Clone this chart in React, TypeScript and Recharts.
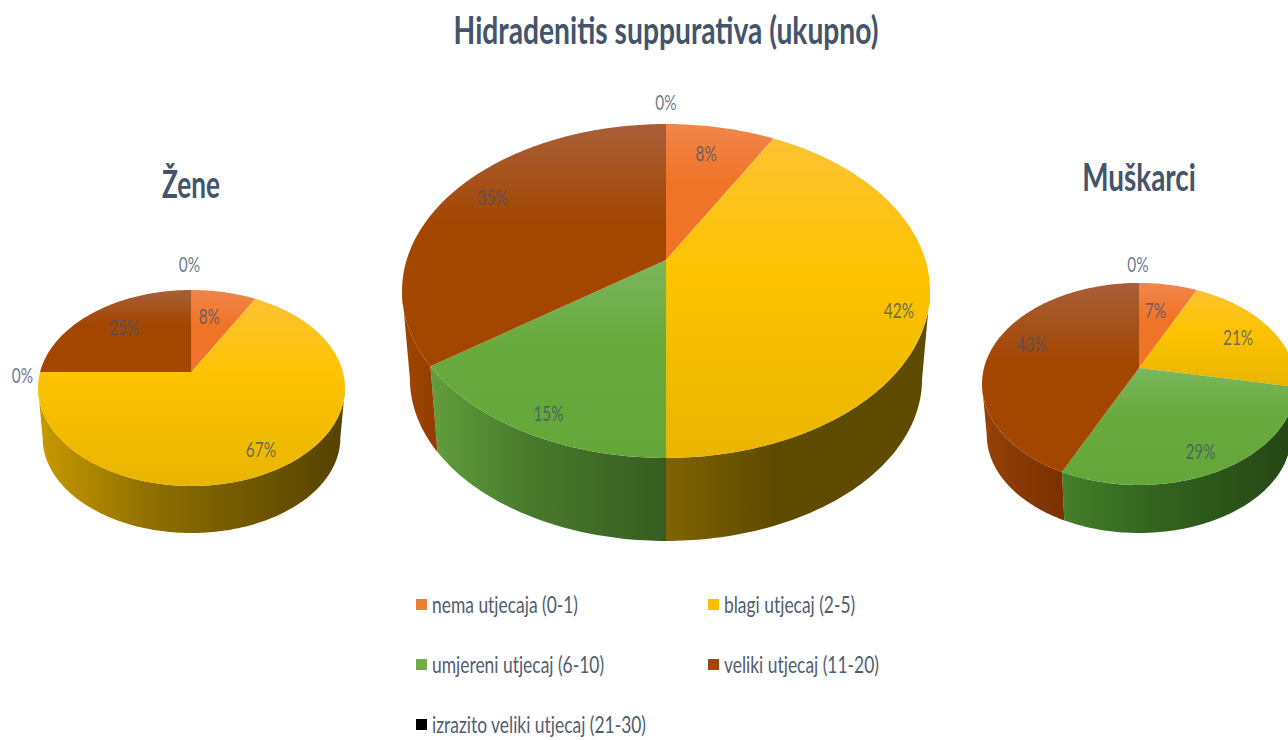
import React from 'react';
import { PieChart, Pie, Legend } from 'recharts';

const categories = [
  'nema utjecaja (0-1)',
  'blagi utjecaj (2-5)',
  'umjereni utjecaj (6-10)',
  'veliki utjecaj (11-20)',
  'izrazito veliki utjecaj (21-30)',
];
const zeneValues = [8, 67, 0, 25, 0];
const ukupnoValues = [8, 42, 15, 35, 0];
const muskarciValues = [7, 21, 29, 43, 0];

const swatchColors = ['#ed7d31', '#fdc000', '#70ad47', '#a34600', '#000000'];
const topStops = [
  ['#f0864c', '#f07427', '#f07427'],
  ['#fcc232', '#fdc300', '#e8b500'],
  ['#7ab65c', '#68aa3e', '#64a63a'],
  ['#a85f38', '#a34600', '#a34600'],
  ['#000000', '#000000', '#000000'],
];

const toRows = (values: number[]) => categories.map((name, i) => ({ name, value: values[i] }));

const pies = [
  {
    id: 'z', rows: toRows(zeneValues), cx: 191.5, cy: 372, radius: 151.4, a: 95.4, k: 0.163, depth: 47,
    labelR: [0.67, 0.83, 1.117, 0.723, 1.388], nudge: [[-5, 0], [-3, 0], [0, 3], [4, 0], [-2, 0]],
    wall: [null, ['#c89a00', '#8a6c00', '#544200'], null, ['#a34600', '#a34600', '#913e00'], null],
  },
  {
    id: 'u', rows: toRows(ukupnoValues), cx: 666, cy: 260, radius: 259.4, a: 161.2, k: 0.1856, depth: 83,
    labelR: [0.8, 0.9, 0.9, 0.85, 1.2], nudge: [[-5, 2], [-3, 12], [7, 1], [10, -5], [0, 0]],
    wall: [null, ['#806400', '#5f4b00', '#5f4b00'], ['#629f3c', '#4a7b2c', '#365d20'], ['#a34600', '#9a4200', '#913e00'], null],
  },
  {
    id: 'm', rows: toRows(muskarciValues), cx: 1139, cy: 368, radius: 155, a: 98.5, k: 0.158, depth: 48,
    labelR: [0.666, 0.74, 0.834, 0.72, 1.267], nudge: [[-4, 0], [2, 0], [-5, 0], [-1, -9], [-1, 0]],
    wall: [null, ['#806400', '#5f4b00', '#5f4b00'], ['#44802a', '#33631f', '#254513'], ['#974208', '#883a04', '#7a3000'], null],
  },
];

const BOTTOM_SCALE = 0.97;
const textColor = '#44546a';

const project = (p: any, thetaDeg: number, r = 1) => {
  const t = (thetaDeg * Math.PI) / 180;
  const u = Math.sin(t) * r;
  const v = Math.cos(t) * r;
  const d = 1 + p.k * v;
  return [(p.radius * u) / d, (-p.a * v) / d];
};

const arcPoints = (p: any, from: number, to: number) => {
  const out: number[][] = [];
  const n = Math.max(2, Math.ceil(Math.abs(to - from)));
  for (let i = 0; i <= n; i++) out.push(project(p, from + ((to - from) * i) / n));
  return out;
};

const gradient = (id: string, stops: string[], vertical: boolean, mid: number) => (
  <linearGradient id={id} x1="0" y1="0" x2={vertical ? 0 : 1} y2={vertical ? 1 : 0}>
    <stop offset="0" stopColor={stops[0]} />
    <stop offset={mid} stopColor={stops[1]} />
    <stop offset="1" stopColor={stops[2]} />
  </linearGradient>
);

const makeTop = (p: any) => (props: any) => {
  const i = categories.indexOf(props.payload?.name ?? props.name);
  const from = 90 - props.startAngle;
  const to = 90 - props.endAngle;
  if (Math.abs(to - from) < 0.01) return <g />;
  const pts = arcPoints(p, from, to).map(([x, y]) => `${(p.cx + x).toFixed(2)} ${(p.cy + y).toFixed(2)}`);
  const gid = `top-${p.id}-${i}`;
  return (
    <g>
      <defs>{gradient(gid, topStops[i], true, 0.42)}</defs>
      <path d={`M${p.cx} ${p.cy}L${pts.join('L')}Z`} fill={`url(#${gid})`} stroke="none" />
    </g>
  );
};

const makeWall = (p: any) => (props: any) => {
  const i = categories.indexOf(props.payload?.name ?? props.name);
  const lo = (Math.acos(-p.k) * 180) / Math.PI;
  const hi = 360 - lo;
  const from = Math.max(90 - props.startAngle, lo);
  const to = Math.min(90 - props.endAngle, hi);
  const stops = p.wall[i];
  if (to - from < 0.01 || !stops) return <g />;
  const maxDown = project(p, 180)[1];
  const drop = p.depth + (1 - BOTTOM_SCALE) * maxDown;
  const arc = arcPoints(p, from, to);
  const upper = arc.map(([x, y]) => `${(p.cx + x).toFixed(2)} ${(p.cy + y).toFixed(2)}`);
  const lower = arc
    .slice()
    .reverse()
    .map(([x, y]) => `${(p.cx + x * BOTTOM_SCALE).toFixed(2)} ${(p.cy + y * BOTTOM_SCALE + drop).toFixed(2)}`);
  const gid = `wall-${p.id}-${i}`;
  return (
    <g>
      <defs>{gradient(gid, stops, false, 0.4)}</defs>
      <path d={`M${upper.concat(lower).join('L')}Z`} fill={`url(#${gid})`} stroke="none" />
    </g>
  );
};

const makeLabel = (p: any) => (props: any) => {
  const i = props.index;
  const [x, y] = project(p, 90 - props.midAngle, p.labelR[i]);
  const px = p.cx + x + p.nudge[i][0];
  const py = p.cy + y + p.nudge[i][1];
  return (
    <text
      key={i}
      transform={`translate(${px} ${py}) scale(0.88 1.2)`}
      textAnchor="middle"
      dominantBaseline="central"
      fontFamily="Lato, sans-serif"
      fontSize={17.5}
      fill={textColor}
      fillOpacity={0.78}
    >
      {`${p.rows[i].value}%`}
    </text>
  );
};

const headings = [
  { text: 'Hidradenitis suppurativa (ukupno)', x: 666, y: 30, size: 34, sx: 0.83, sy: 1.1 },
  { text: 'Žene', x: 191, y: 183, size: 34, sx: 0.77, sy: 1.12 },
  { text: 'Muškarci', x: 1139, y: 177, size: 34, sx: 0.82, sy: 1.1 },
];

const legendColumns = [416, 708];
const legendRows = [605, 665, 725];

const LegendContent = () => (
  <div style={{ position: 'relative', width: 1288, height: 740 }}>
    {categories.map((c, i) => {
      const left = legendColumns[i % 2];
      const top = legendRows[Math.floor(i / 2)];
      return (
        <div key={c}>
          <div style={{ position: 'absolute', left, top: top - 6, width: 11, height: 11, background: swatchColors[i] }} />
          <div
            style={{
              position: 'absolute',
              left: left + 16,
              top: top - 15,
              lineHeight: '28px',
              fontFamily: 'Lato, sans-serif',
              fontSize: 20.5,
              color: '#515d6e',
              whiteSpace: 'nowrap',
              transform: 'scale(0.85, 1.15)',
              transformOrigin: 'left center',
            }}
          >
            {c}
          </div>
        </div>
      );
    })}
  </div>
);

export default function App() {
  return (
    <div style={{ position: 'absolute', left: 0, top: 0, width: 1288, height: 740, overflow: 'hidden', background: '#fff' }}>
      <PieChart width={1288} height={740} margin={{ top: 0, right: 0, bottom: 0, left: 0 }}>
        {pies.map((p) => (
          <Pie
            key={`w-${p.id}`}
            data={p.rows}
            dataKey="value"
            nameKey="name"
            cx={p.cx}
            cy={p.cy}
            innerRadius={0}
            outerRadius={p.radius}
            startAngle={90}
            endAngle={-270}
            stroke="none"
            shape={makeWall(p)}
            isAnimationActive={false}
            legendType="none"
          />
        ))}
        {pies.map((p) => (
          <Pie
            key={`t-${p.id}`}
            data={p.rows}
            dataKey="value"
            nameKey="name"
            cx={p.cx}
            cy={p.cy}
            innerRadius={0}
            outerRadius={p.radius}
            startAngle={90}
            endAngle={-270}
            stroke="none"
            shape={makeTop(p)}
            label={makeLabel(p)}
            labelLine={false}
            isAnimationActive={false}
            legendType="none"
          />
        ))}
        <Legend
          content={LegendContent}
          verticalAlign="top"
          align="left"
          wrapperStyle={{ position: 'absolute', left: 0, top: 0, width: 1288, height: 740, pointerEvents: 'none' }}
        />
      </PieChart>
      {headings.map((h) => (
        <div
          key={h.text}
          style={{
            position: 'absolute',
            left: h.x,
            top: h.y,
            fontFamily: 'Lato, sans-serif',
            fontWeight: 700,
            fontSize: h.size,
            color: textColor,
            whiteSpace: 'nowrap',
            lineHeight: 1,
            transform: `translate(-50%, -50%) scale(${h.sx}, ${h.sy})`,
          }}
        >
          {h.text}
        </div>
      ))}
    </div>
  );
}
